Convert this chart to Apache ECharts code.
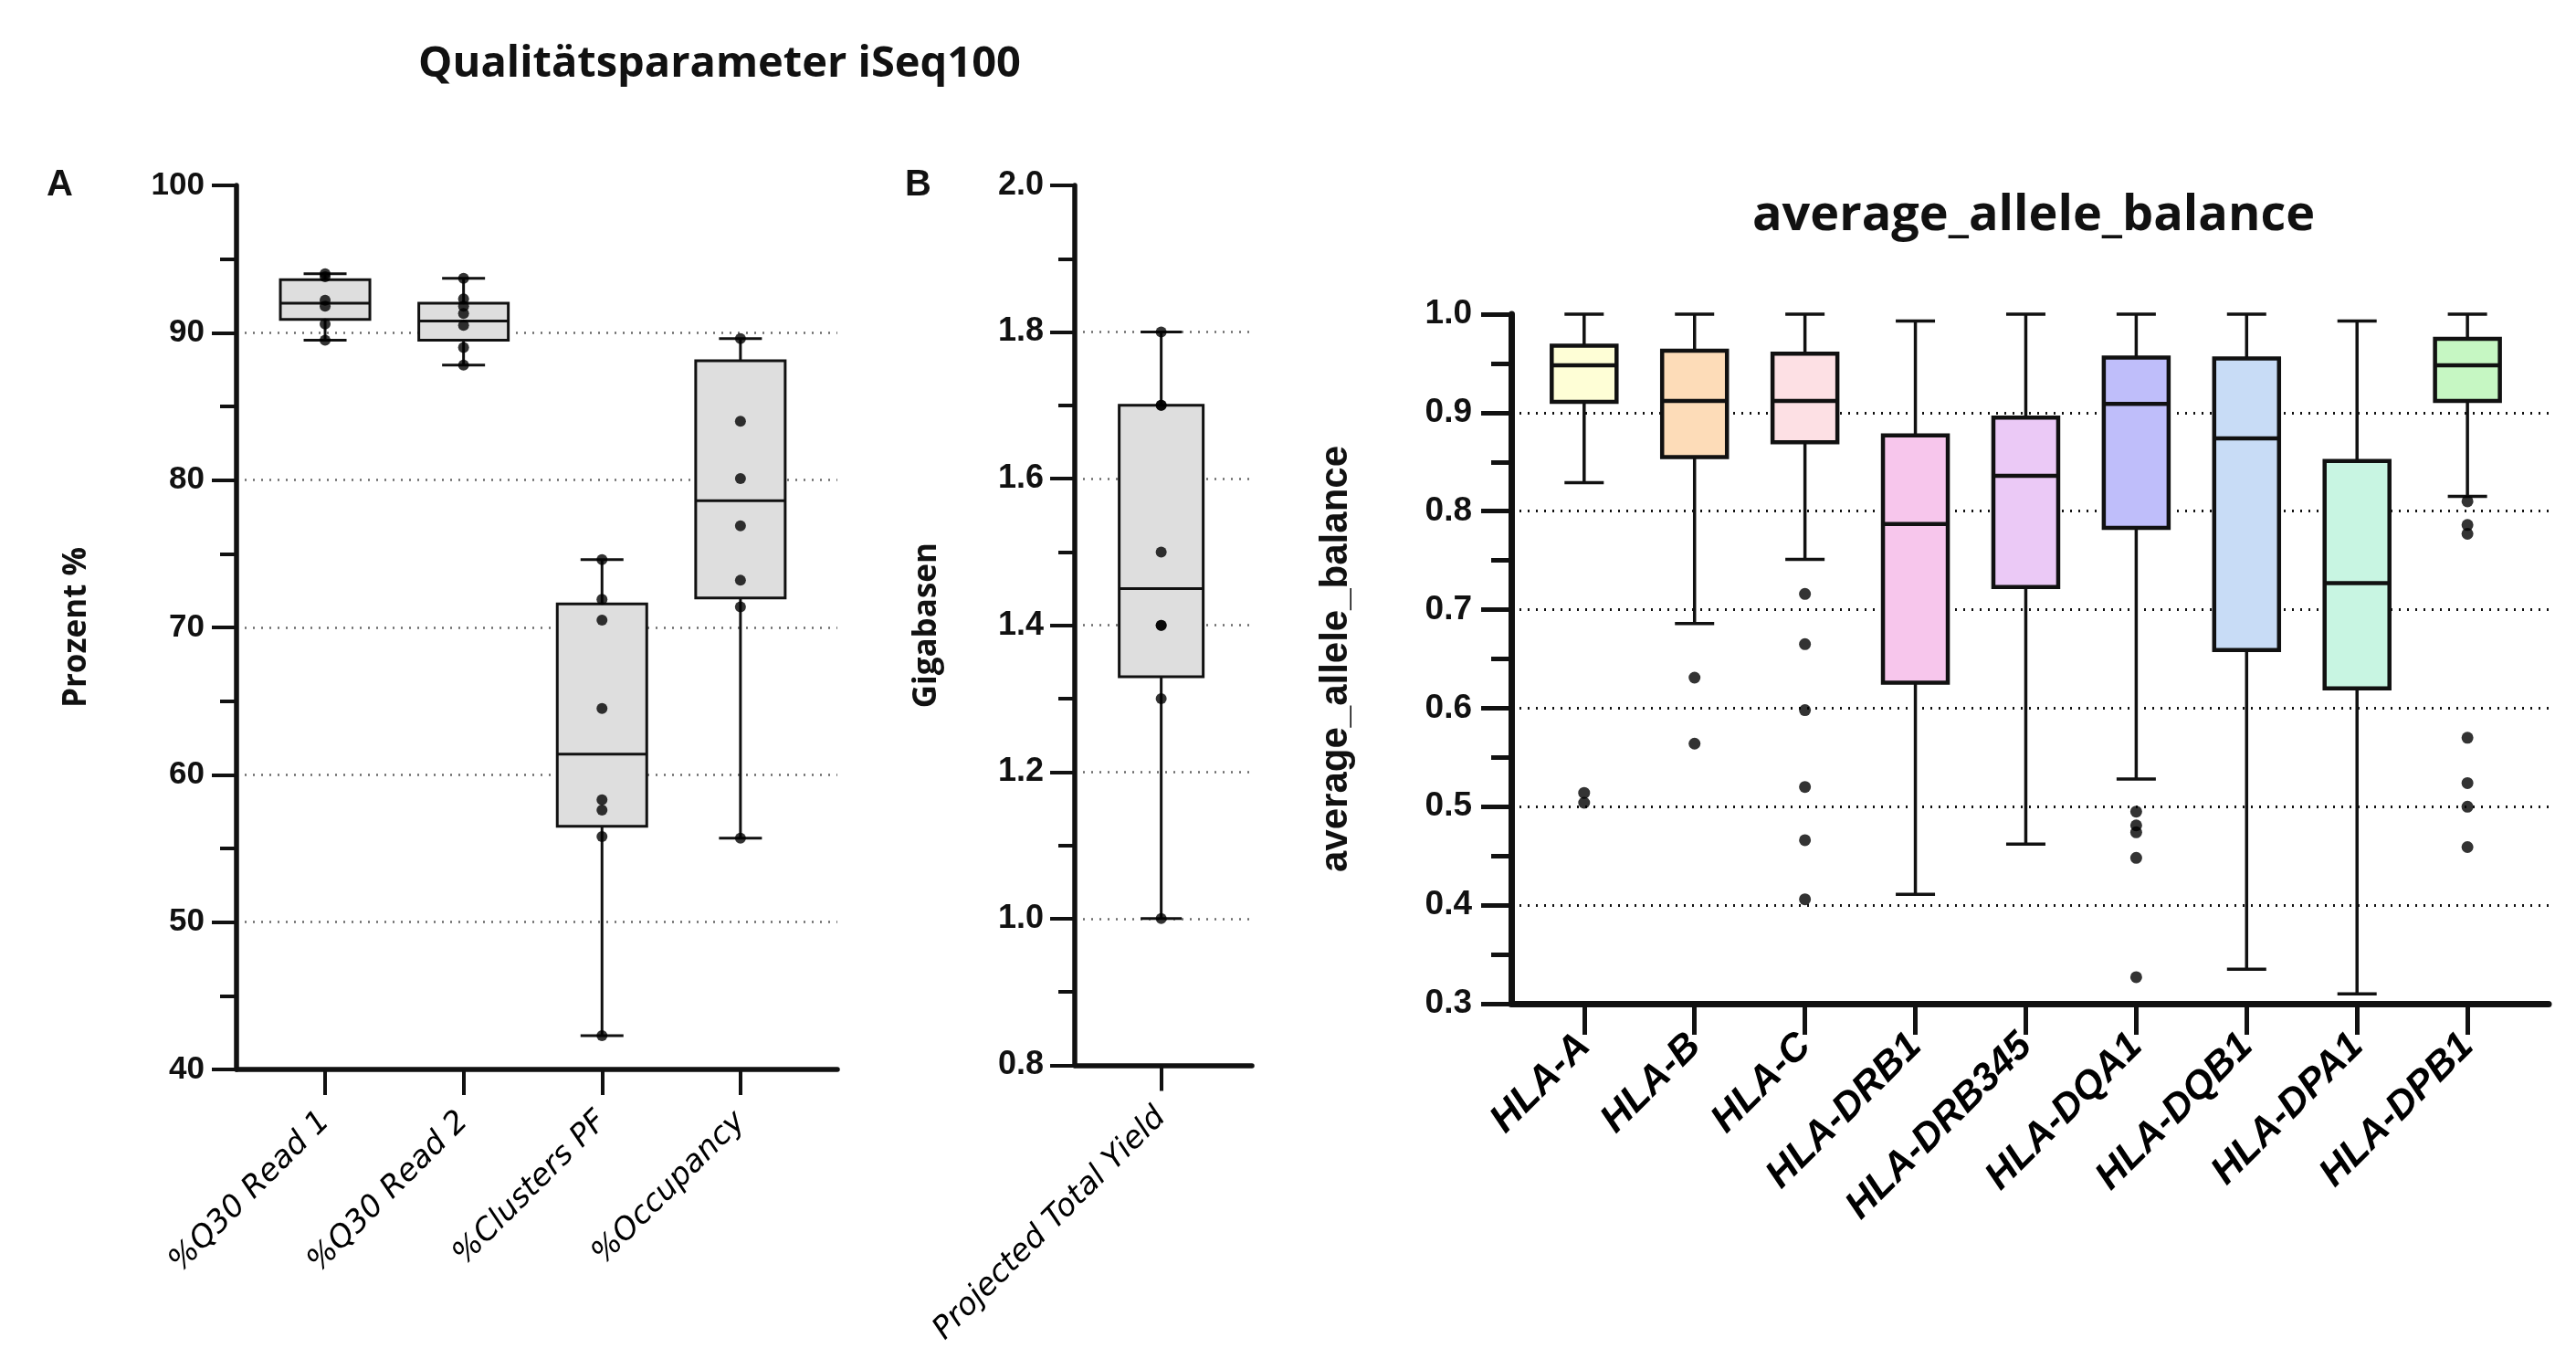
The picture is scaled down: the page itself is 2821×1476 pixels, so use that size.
<!DOCTYPE html>
<html lang="de">

<head>
    <meta charset="UTF-8">
    <title>Qualitätsparameter iSeq100</title>
    <script src="https://cdn.jsdelivr.net/npm/echarts@6/dist/echarts.min.js"></script>
    <style>
        html, body { margin: 0; padding: 0; background: #fff; }
    </style>
</head>

<body>
    <div id="container" style="width: 2821px; height: 1476px"></div>
    <script>
        // Panel A: iSeq100 run metrics
        var catsA = ['%Q30 Read 1', '%Q30 Read 2', '%Clusters PF', '%Occupancy'];
        // [min, Q1, median, Q3, max]
        var boxA = [
            [89.5, 90.9, 92.0, 93.6, 94.0],
            [87.8, 89.5, 90.8, 92.0, 93.7],
            [42.3, 56.5, 61.4, 71.6, 74.6],
            [55.7, 72.0, 78.6, 88.1, 89.6]
        ];
        var dotsA = [
            [94.0, 93.8, 92.2, 91.8, 90.6, 89.5],
            [93.7, 92.3, 91.8, 91.3, 90.5, 89.0, 87.8],
            [74.6, 71.9, 70.5, 64.5, 58.3, 57.6, 55.8, 42.3],
            [89.6, 84.0, 80.1, 76.9, 73.2, 71.4, 55.7]
        ];
        var ticksA = [40, 50, 60, 70, 80, 90, 100];

        // Panel B: projected total yield
        var catsB = ['Projected Total Yield'];
        var boxB = [[1.0, 1.33, 1.45, 1.70, 1.80]];
        var dotsB = [[1.8, 1.7, 1.7, 1.5, 1.4, 1.4, 1.3, 1.0]];
        var ticksB = [0.8, 1.0, 1.2, 1.4, 1.6, 1.8, 2.0];

        // Panel C: average allele balance per locus
        var catsC = ['HLA-A', 'HLA-B', 'HLA-C', 'HLA-DRB1', 'HLA-DRB345', 'HLA-DQA1', 'HLA-DQB1', 'HLA-DPA1', 'HLA-DPB1'];
        var boxC = [
            [0.829, 0.911, 0.948, 0.968, 1.0],
            [0.686, 0.855, 0.912, 0.963, 1.0],
            [0.751, 0.870, 0.912, 0.960, 1.0],
            [0.411, 0.626, 0.787, 0.877, 0.993],
            [0.462, 0.723, 0.836, 0.895, 1.0],
            [0.528, 0.783, 0.909, 0.956, 1.0],
            [0.335, 0.659, 0.874, 0.955, 1.0],
            [0.310, 0.620, 0.727, 0.851, 0.993],
            [0.815, 0.912, 0.948, 0.975, 1.0]
        ];
        var outliersC = [
            [0.514, 0.504],
            [0.631, 0.564],
            [0.716, 0.665, 0.598, 0.520, 0.466, 0.406],
            [],
            [],
            [0.495, 0.481, 0.474, 0.448, 0.327],
            [],
            [],
            [0.810, 0.786, 0.777, 0.570, 0.524, 0.500, 0.459]
        ];
        var ticksC = [0.3, 0.4, 0.5, 0.6, 0.7, 0.8, 0.9, 1.0];
        var colorsC = ['#fefed6', '#fddcb8', '#fde0e4', '#f7c6ec', '#ebc9f6', '#bfbefa', '#c8dcf6', '#c8f5e2', '#c6f7c3'];

        // box rows [x, min, q1, med, q3, max] and dot rows [x, y]
        function boxRows(boxes) {
            return boxes.map(function (b, i) { return [i].concat(b); });
        }
        function dotRows(dots) {
            var out = [];
            dots.forEach(function (list, i) {
                list.forEach(function (v) { out.push([i, v]); });
            });
            return out;
        }

        function boxRender(boxW, capW, lineW, boxLW, fills) {
            return function (params, api) {
                var x = api.value(0);
                var lo = api.coord([x, api.value(1)]);
                var q1 = api.coord([x, api.value(2)]);
                var md = api.coord([x, api.value(3)]);
                var q3 = api.coord([x, api.value(4)]);
                var hi = api.coord([x, api.value(5)]);
                var cx = lo[0];
                function ln(x1, y1, x2, y2, w) {
                    return { type: 'line', shape: { x1: x1, y1: y1, x2: x2, y2: y2 }, style: { stroke: '#111', lineWidth: w } };
                }
                return {
                    type: 'group',
                    children: [
                        ln(cx, hi[1], cx, q3[1], lineW),
                        ln(cx, q1[1], cx, lo[1], lineW),
                        ln(cx - capW / 2, hi[1], cx + capW / 2, hi[1], lineW),
                        ln(cx - capW / 2, lo[1], cx + capW / 2, lo[1], lineW),
                        {
                            type: 'rect',
                            shape: { x: cx - boxW / 2, y: q3[1], width: boxW, height: q1[1] - q3[1] },
                            style: { fill: fills[params.dataIndex % fills.length], stroke: '#111', lineWidth: boxLW }
                        },
                        ln(cx - boxW / 2, md[1], cx + boxW / 2, md[1], boxLW)
                    ]
                };
            };
        }

        function yAxisOpt(idx, ticks, step, name, nameGap, cfg) {
            return {
                type: 'value',
                gridIndex: idx,
                min: ticks[0],
                max: ticks[ticks.length - 1],
                interval: step,
                name: name,
                nameLocation: 'middle',
                nameGap: nameGap,
                nameRotate: 90,
                nameTextStyle: cfg.nameStyle,
                axisLine: { show: true, onZero: false, lineStyle: { color: '#111', width: cfg.axisW } },
                axisTick: { show: true, inside: false, length: cfg.tickLen, lineStyle: { color: '#111', width: cfg.tickW } },
                minorTick: { show: true, splitNumber: 2, length: cfg.minorLen, lineStyle: { color: '#111', width: cfg.tickW } },
                axisLabel: {
                    margin: cfg.labelMargin,
                    formatter: cfg.fmt,
                    color: '#111',
                    fontSize: cfg.labelSize,
                    fontWeight: 'bold',
                    fontFamily: '"Liberation Sans", Arial, sans-serif'
                },
                splitLine: {
                    show: true,
                    showMinLine: false,
                    showMaxLine: false,
                    lineStyle: { color: cfg.gridColor, width: cfg.gridW, type: [2, 7] }
                }
            };
        }

        function xAxisOpt(idx, cats, min, max, cfg) {
            var idxs = cats.map(function (c, i) { return i; });
            return {
                type: 'value',
                gridIndex: idx,
                min: min,
                max: max,
                axisLine: { show: true, onZero: false, lineStyle: { color: '#111', width: cfg.axisW } },
                axisTick: { show: true, length: cfg.tickLen, customValues: idxs, lineStyle: { color: '#111', width: cfg.tickW } },
                axisLabel: {
                    customValues: idxs,
                    formatter: function (v) { return cats[Math.round(v)]; },
                    rotate: 45,
                    margin: cfg.labelMargin,
                    color: '#000',
                    fontSize: cfg.labelSize,
                    fontStyle: 'italic',
                    fontWeight: cfg.labelWeight,
                    fontFamily: cfg.labelFont
                },
                splitLine: { show: false }
            };
        }

        var chart = echarts.init(document.getElementById('container'));

        var cfgA = {
            axisW: 5.5, tickW: 4, tickLen: 27, minorLen: 18, labelMargin: 35, labelSize: 35,
            gridColor: '#6a6a6a', gridW: 2.5,
            fmt: function (v) { return String(v); },
            nameStyle: { fontSize: 35, fontWeight: 'bold', fontFamily: '"Open Sans", sans-serif', color: '#111' }
        };
        var cfgB = Object.assign({}, cfgA, {
            labelMargin: 34, labelSize: 36,
            fmt: function (v) { return v.toFixed(1); },
            nameStyle: { fontSize: 35, fontWeight: 'bold', fontFamily: '"Open Sans", sans-serif', color: '#111' }
        });
        var cfgC = {
            axisW: 7, tickW: 5, tickLen: 33, minorLen: 22, labelMargin: 43, labelSize: 37,
            gridColor: '#111', gridW: 3,
            fmt: function (v) { return v.toFixed(1); },
            nameStyle: { fontSize: 42, fontWeight: 'bold', fontFamily: '"Liberation Sans", Arial, sans-serif', color: '#111' }
        };

        var option = {
            backgroundColor: '#fff',
            animation: false,
            title: [
                { text: 'Qualitätsparameter iSeq100', left: 783, top: 42, textAlign: 'center',
                  textStyle: { fontSize: 47, fontWeight: 'bold', fontFamily: '"Open Sans", sans-serif', color: '#111' } },
                { text: 'average_allele_balance', left: 2222, top: 205, textAlign: 'center',
                  textStyle: { fontSize: 54, fontWeight: 'bold', fontFamily: '"Open Sans", sans-serif', color: '#111' } },
                { text: 'A', left: 46, top: 178,
                  textStyle: { fontSize: 40, fontWeight: 'bold', fontFamily: '"Liberation Sans", Arial, sans-serif', color: '#111' } },
                { text: 'B', left: 986, top: 178,
                  textStyle: { fontSize: 40, fontWeight: 'bold', fontFamily: '"Liberation Sans", Arial, sans-serif', color: '#111' } }
            ],
            grid: [
                { left: 259, top: 203, width: 658, height: 968 },
                { left: 1177, top: 203, width: 194, height: 968 },
                { left: 1655, top: 344, width: 1136, height: 755 }
            ],
            xAxis: [
                xAxisOpt(0, catsA, -0.64, 3.70, { axisW: 5.5, tickW: 4, tickLen: 28, labelMargin: 52, labelSize: 34, labelWeight: 'normal', labelFont: '"DejaVu Sans", sans-serif' }),
                xAxisOpt(1, catsB, -1, 1.05, { axisW: 5.5, tickW: 4, tickLen: 28, labelMargin: 52, labelSize: 34, labelWeight: 'normal', labelFont: '"DejaVu Sans", sans-serif' }),
                xAxisOpt(2, catsC, -0.66, 8.735, { axisW: 7, tickW: 5, tickLen: 34, labelMargin: 40, labelSize: 43, labelWeight: 'bold', labelFont: '"Liberation Sans", Arial, sans-serif' })
            ],
            yAxis: [
                yAxisOpt(0, ticksA, 10, 'Prozent %', 157, cfgA),
                yAxisOpt(1, ticksB, 0.2, 'Gigabasen', 144, cfgB),
                yAxisOpt(2, ticksC, 0.1, 'average_allele_balance', 171, cfgC)
            ],
            series: [
                {
                    type: 'custom', xAxisIndex: 0, yAxisIndex: 0, z: 2,
                    renderItem: boxRender(98, 47, 3, 3, ['#dedede']),
                    encode: { x: 0, y: [1, 2, 3, 4, 5] },
                    data: boxRows(boxA)
                },
                {
                    type: 'scatter', xAxisIndex: 0, yAxisIndex: 0, z: 3,
                    symbolSize: 12, itemStyle: { color: '#000' },
                    data: dotRows(dotsA)
                },
                {
                    type: 'custom', xAxisIndex: 1, yAxisIndex: 1, z: 2,
                    renderItem: boxRender(92, 45, 3, 3, ['#dedede']),
                    encode: { x: 0, y: [1, 2, 3, 4, 5] },
                    data: boxRows(boxB)
                },
                {
                    type: 'scatter', xAxisIndex: 1, yAxisIndex: 1, z: 3,
                    symbolSize: 12, itemStyle: { color: '#000' },
                    data: dotRows(dotsB)
                },
                {
                    type: 'custom', xAxisIndex: 2, yAxisIndex: 2, z: 2,
                    renderItem: boxRender(71, 43, 3.5, 4.5, colorsC),
                    encode: { x: 0, y: [1, 2, 3, 4, 5] },
                    data: boxRows(boxC)
                },
                {
                    type: 'scatter', xAxisIndex: 2, yAxisIndex: 2, z: 3,
                    symbolSize: 13, itemStyle: { color: '#000' },
                    data: dotRows(outliersC)
                }
            ]
        };

        chart.setOption(option);
    </script>
</body>

</html>
